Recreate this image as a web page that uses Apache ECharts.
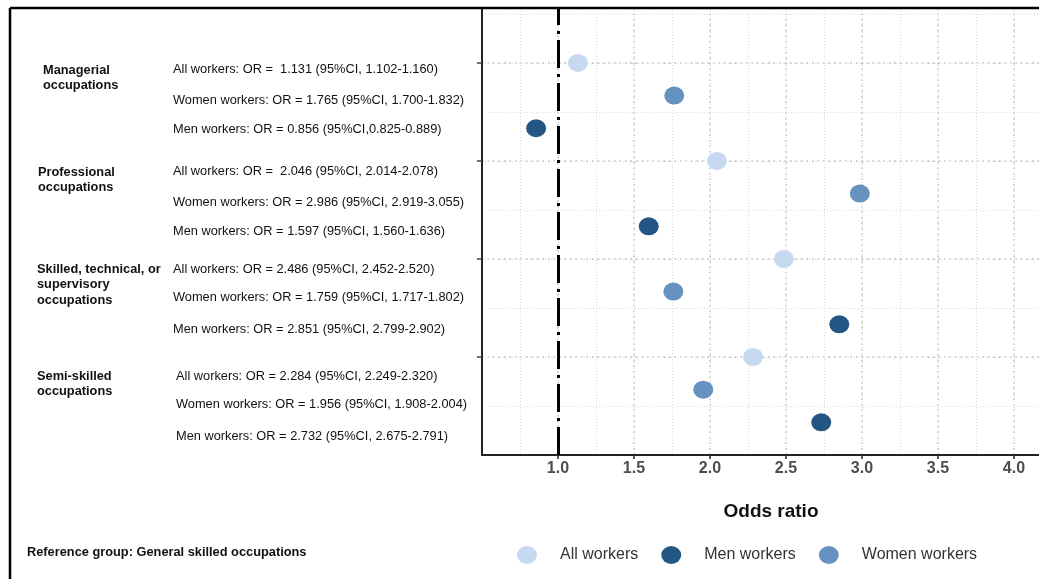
<!DOCTYPE html>
<html>
<head>
<meta charset="utf-8">
<script src="https://cdn.jsdelivr.net/npm/echarts@6/dist/echarts.min.js"></script>
<style>
html,body{margin:0;padding:0;background:#fff;}
#chart{width:1039px;height:579px;}
</style>
</head>
<body>
<div id="chart"></div>
<script>
// ---- data ----
const groups = ['Managerial\noccupations', 'Professional\noccupations', 'Skilled, technical, or\nsupervisory\noccupations', 'Semi-skilled\noccupations'];
const seriesNames = ['All workers', 'Men workers', 'Women workers'];
const allOR = [1.131, 2.046, 2.486, 2.284];
const womenOR = [1.765, 2.986, 1.759, 1.956];
const menOR = [0.856, 1.597, 2.851, 2.732];
const rowLabels = [
  'All workers: OR =  1.131 (95%CI, 1.102-1.160)',
  'Women workers: OR = 1.765 (95%CI, 1.700-1.832)',
  'Men workers: OR = 0.856 (95%CI,0.825-0.889)',
  'All workers: OR =  2.046 (95%CI, 2.014-2.078)',
  'Women workers: OR = 2.986 (95%CI, 2.919-3.055)',
  'Men workers: OR = 1.597 (95%CI, 1.560-1.636)',
  'All workers: OR = 2.486 (95%CI, 2.452-2.520)',
  'Women workers: OR = 1.759 (95%CI, 1.717-1.802)',
  'Men workers: OR = 2.851 (95%CI, 2.799-2.902)',
  'All workers: OR = 2.284 (95%CI, 2.249-2.320)',
  'Women workers: OR = 1.956 (95%CI, 1.908-2.004)',
  'Men workers: OR = 2.732 (95%CI, 2.675-2.791)'
];
const xTickLabels = [1.0, 1.5, 2.0, 2.5, 3.0, 3.5, 4.0];
const refValue = 1.0;
const axisTitle = 'Odds ratio';
const footnote = 'Reference group: General skilled occupations';

// ---- layout / style ----
const FONT = '"Liberation Sans", Arial, sans-serif';
const colors = { 'All workers': '#c6d9f1', 'Men workers': '#245683', 'Women workers': '#6592be' };
const ellipse = 'path://M0,9 A10,9 0 1,1 20,9 A10,9 0 1,1 0,9 Z';
// row position: group g, row k (0 all, 1 women, 2 men)
function rowY(g, k) { return 12 - 3 * g - k; }

const seriesData = {
  'All workers': allOR.map((v, g) => [v, rowY(g, 0)]),
  'Women workers': womenOR.map((v, g) => [v, rowY(g, 1)]),
  'Men workers': menOR.map((v, g) => [v, rowY(g, 2)])
};

// text positions (pixels) for left annotations
const groupLabelPos = [[43, 62.5], [38, 165], [37, 262], [37, 368.5]];
const rowTextY = [69, 100, 129, 171.5, 202.5, 231.5, 269, 297.5, 329, 376, 404.5, 436];
const rowTextX = [173, 173, 173, 173, 173, 173, 173, 173, 173, 176, 176, 176];

const graphics = [];
graphics.push({ type: 'line', shape: { x1: 10, y1: 8, x2: 1039, y2: 8 }, style: { stroke: '#000', lineWidth: 2.5 }, z: 100 });
graphics.push({ type: 'line', shape: { x1: 10, y1: 8, x2: 10, y2: 579 }, style: { stroke: '#000', lineWidth: 2.5 }, z: 100 });
groups.forEach((t, i) => {
  graphics.push({ type: 'text', x: groupLabelPos[i][0], y: groupLabelPos[i][1],
    style: { text: t, fill: '#111', font: 'bold 12.8px ' + FONT, lineHeight: 15.3, verticalAlign: 'top' } });
});
rowLabels.forEach((t, i) => {
  graphics.push({ type: 'text', x: rowTextX[i], y: rowTextY[i],
    style: { text: t, fill: '#111', font: '12.8px ' + FONT, verticalAlign: 'middle' } });
});
graphics.push({ type: 'text', x: 771, y: 512, style: { text: axisTitle, fill: '#111', font: 'bold 19px ' + FONT, align: 'center', verticalAlign: 'middle' } });
graphics.push({ type: 'text', x: 27, y: 552, style: { text: footnote, fill: '#111', font: 'bold 12.8px ' + FONT, verticalAlign: 'middle' } });

const chart = echarts.init(document.getElementById('chart'), null, { renderer: 'canvas' });
const option = {
  animation: false,
  backgroundColor: '#fff',
  grid: { left: 482, right: 0, top: 8, bottom: 124 },
  xAxis: [
    {
      type: 'value', min: 0.5, max: 4.165, interval: 0.5, position: 'bottom',
      axisLine: { show: true, lineStyle: { color: '#222', width: 2 } },
      axisTick: { show: true, length: 4, customValues: xTickLabels, lineStyle: { color: '#222', width: 1.5 } },
      axisLabel: { show: true, customValues: xTickLabels, formatter: v => Number(v).toFixed(1), color: '#4d4d4d', fontSize: 16, fontWeight: 'bold', fontFamily: FONT, margin: 6 },
      splitLine: { show: true, lineStyle: { color: '#bdbdbd', width: 1.5, type: [1.5, 4] } }
    },
    {
      type: 'value', min: 0.5, max: 4.165, interval: 0.25, position: 'top',
      axisLine: { show: false }, axisTick: { show: false }, axisLabel: { show: false },
      splitLine: { show: true, lineStyle: { color: '#dadada', width: 1, type: [1, 2] } }
    }
  ],
  yAxis: [
    {
      type: 'value', min: 0, max: 13.68, interval: 3, position: 'left',
      axisLine: { show: true, lineStyle: { color: '#222', width: 2 } },
      axisTick: { show: true, length: 5, customValues: [3, 6, 9, 12], lineStyle: { color: '#444', width: 1.5 } },
      axisLabel: { show: false },
      splitLine: { show: true, lineStyle: { color: '#bdbdbd', width: 1.5, type: [1.5, 4] } }
    },
    {
      type: 'value', min: 0, max: 13.68, interval: 1.5, position: 'right',
      axisLine: { show: false }, axisTick: { show: false }, axisLabel: { show: false },
      splitLine: { show: true, lineStyle: { color: '#dadada', width: 1, type: [1, 2] } }
    }
  ],
  legend: {
    data: seriesNames, left: 512, top: 541, itemWidth: 20, itemHeight: 18, itemGap: 23,
    icon: ellipse,
    textStyle: { fontSize: 16, color: '#333', fontFamily: FONT, padding: [0, 0, 0, 18] }
  },
  series: seriesNames.map((name, i) => ({
    name: name, type: 'scatter', xAxisIndex: 0, yAxisIndex: 0,
    symbol: ellipse, symbolSize: [20, 18],
    itemStyle: { color: colors[name], opacity: 1 },
    data: seriesData[name], z: 5,
    markLine: i === 0 ? {
      silent: true, symbol: 'none', animation: false,
      label: { show: false },
      lineStyle: { color: '#000', width: 3, type: [28, 6, 3, 6], opacity: 1 },
      data: [{ xAxis: refValue }]
    } : undefined
  })),
  graphic: graphics
};
chart.setOption(option);
</script>
</body>
</html>
